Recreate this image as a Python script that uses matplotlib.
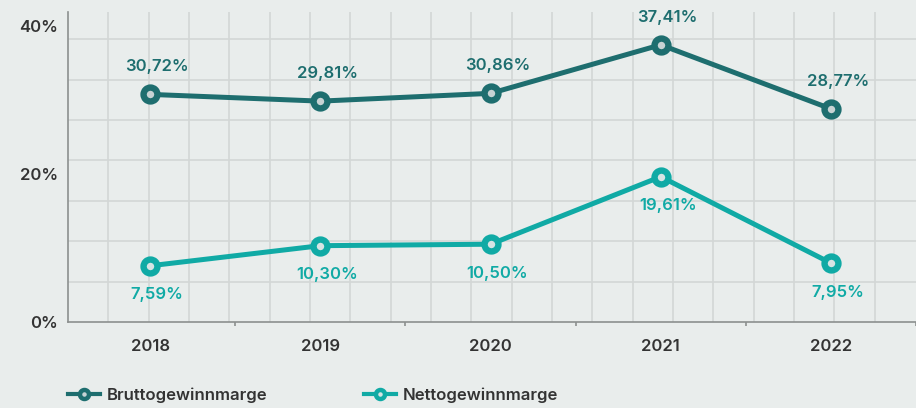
import matplotlib.pyplot as plt
from matplotlib.lines import Line2D
import numpy as np

# margins per year, in percent
years = [2018, 2019, 2020, 2021, 2022]
brutto = [30.72, 29.81, 30.86, 37.41, 28.77]
netto = [7.59, 10.30, 10.50, 19.61, 7.95]
series_names = ["Bruttogewinnmarge", "Nettogewinnmarge"]
y_ticks = [0, 20, 40]

bg = "#e9edec"
grid_col = "#d3d7d6"
dark = "#1e6e6f"
light = "#10aaa5"
dark_face = "#c7d3d4"
light_face = "#d6e4e4"
text_col = "#333333"

plt.rcParams['font.family'] = ['Inter', 'DejaVu Sans']
weight = "semibold"


def fmt(v):
    return ("%.2f" % v).replace(".", ",") + "%"


fig = plt.figure(figsize=(9.16, 4.08), dpi=100, facecolor=bg)
ax = fig.add_axes([68 / 916, 1 - 322 / 408, 1 - 68 / 916, 310 / 408])
ax.set_facecolor(bg)

x0, x1 = 2017.517, 2022.454
y0, y1 = 0, 41.84
ax.set_xlim(x0, x1)
ax.set_ylim(y0, y1)

# square background grid, anchored at the lower left corner
for gx in np.arange(x0, x1, 0.237)[1:]:
    ax.axvline(gx, color=grid_col, lw=1.2, zorder=0)
for gy in np.arange(y0, y1, 5.45)[1:]:
    ax.axhline(gy, color=grid_col, lw=1.2, zorder=0)

ax.plot(years, brutto, color=dark, lw=3.6, marker="o", ms=10, mew=4.6,
        mfc=dark_face, mec=dark, zorder=3, solid_capstyle="round")
ax.plot(years, netto, color=light, lw=3.6, marker="o", ms=10, mew=4.6,
        mfc=light_face, mec=light, zorder=3, solid_capstyle="round")

for x, v in zip(years, brutto):
    ax.annotate(fmt(v), (x, v), xytext=(5, 20), textcoords="offset points",
                ha="center", va="center", color=dark, fontsize=12, fontweight=weight)
for x, v in zip(years, netto):
    ax.annotate(fmt(v), (x, v), xytext=(5, -21), textcoords="offset points",
                ha="center", va="center", color=light, fontsize=12, fontweight=weight)

for s in ["top", "right"]:
    ax.spines[s].set_visible(False)
for s in ["left", "bottom"]:
    ax.spines[s].set_color("#8c908f")
    ax.spines[s].set_linewidth(1.2)

ax.set_xticks(years)
ax.set_xticklabels([str(y) for y in years])
ax.set_xticks([y + 0.5 for y in years[:-1]] + [years[-1] + 0.5], minor=True)
ax.tick_params(axis="x", which="major", length=0, pad=12, labelsize=12,
               labelcolor=text_col)
ax.tick_params(axis="x", which="minor", length=3, width=1.2, color="#8c908f")
ax.set_yticks(y_ticks)
ax.set_yticklabels(["%d%%" % t for t in y_ticks])
ax.tick_params(axis="y", length=0, pad=7, labelsize=12, labelcolor=text_col)
for lab in ax.get_xticklabels() + ax.get_yticklabels():
    lab.set_fontweight(weight)

# legend entries, one per series
handles = [
    Line2D([], [], color=dark, lw=3, marker="o", ms=6.5, mew=3.2, mfc=dark_face, mec=dark),
    Line2D([], [], color=light, lw=3, marker="o", ms=6.5, mew=3.2, mfc=light_face, mec=light),
]
for h, name, xpos in zip(handles, series_names, [68, 364]):
    fig.legend([h], [name], loc="center left", bbox_to_anchor=(xpos / 916, 1 - 395 / 408),
               frameon=False, borderpad=0, borderaxespad=0, handlelength=1.9,
               handletextpad=0.45, prop={"size": 12, "weight": weight},
               labelcolor=text_col)

fig.savefig("out.png", dpi=100, facecolor=bg)
